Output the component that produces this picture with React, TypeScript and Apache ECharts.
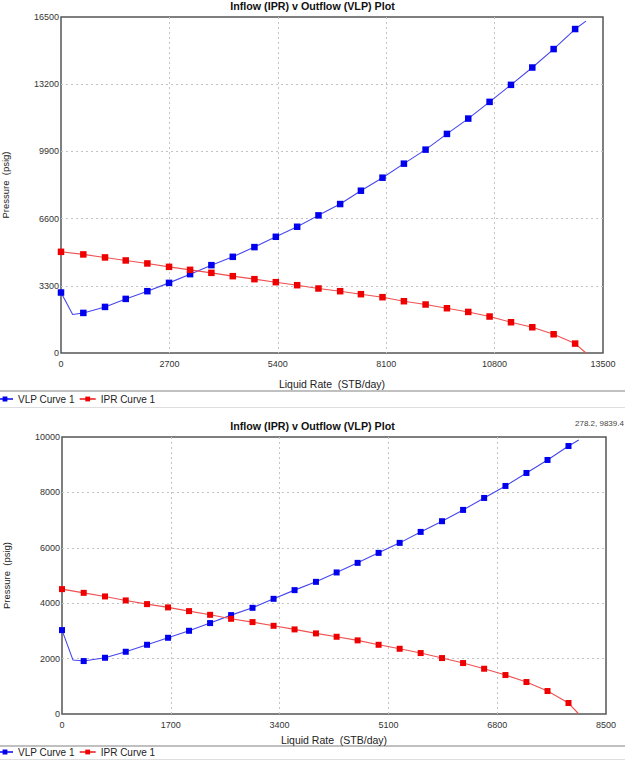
import React, { useEffect, useRef } from "react";
import * as echarts from "echarts";

// ---- Top plot data ----
const topVlpRate = [0, 291, 556, 1096, 1612, 2151, 2691, 3215, 3746, 4279, 4818, 5351, 5882, 6413, 6953, 7470, 8008, 8541, 9081, 9613, 10144, 10675, 11208, 11739, 12270, 12806, 13077];
const topVlpPressure = [2971, 1889, 1968, 2263, 2657, 3035, 3444, 3872, 4314, 4723, 5200, 5707, 6199, 6759, 7315, 7970, 8609, 9298, 9987, 10759, 11512, 12332, 13168, 14020, 14925, 15909, 16300];
const topVlpUnmarked = [1, 26];
const topIprRate = [0, 556, 1096, 1612, 2151, 2691, 3215, 3746, 4279, 4818, 5351, 5882, 6413, 6953, 7470, 8008, 8541, 9081, 9613, 10144, 10675, 11208, 11739, 12270, 12806, 13077];
const topIprPressure = [4969, 4841, 4693, 4545, 4398, 4231, 4083, 3936, 3773, 3626, 3478, 3330, 3168, 3035, 2888, 2740, 2543, 2381, 2199, 2017, 1791, 1510, 1264, 920, 462, 0];
const topIprUnmarked = [25];
const topXMax = 13500;
const topXInterval = 2700;
const topYMax = 16500;
const topYInterval = 3300;

// ---- Bottom plot data ----
const botVlpRate = [0, 172, 339, 672, 996, 1329, 1657, 1985, 2314, 2642, 2977, 3306, 3634, 3968, 4291, 4619, 4947, 5276, 5604, 5938, 6267, 6596, 6929, 7257, 7586, 7914, 8075];
const botVlpPressure = [3029, 1947, 1911, 2030, 2247, 2499, 2752, 3004, 3282, 3570, 3833, 4158, 4472, 4771, 5110, 5456, 5817, 6178, 6574, 6960, 7368, 7800, 8233, 8702, 9171, 9676, 9892];
const botVlpUnmarked = [1, 26];
const botIprRate = [0, 339, 672, 996, 1329, 1657, 1985, 2314, 2642, 2977, 3306, 3634, 3968, 4291, 4619, 4947, 5276, 5604, 5938, 6267, 6596, 6929, 7257, 7586, 7914, 8075];
const botIprPressure = [4508, 4374, 4244, 4100, 3967, 3848, 3714, 3581, 3437, 3318, 3184, 3054, 2910, 2788, 2658, 2499, 2355, 2200, 2019, 1839, 1634, 1406, 1154, 829, 397, 0];
const botIprUnmarked = [25];
const botXMax = 8500;
const botXInterval = 1700;
const botYMax = 10000;
const botYInterval = 2000;

const chartTitle = "Inflow (IPR) v Outflow (VLP) Plot";
const xName = "Liquid Rate  (STB/day)";
const yName = "Pressure  (psig)";
const vlpName = "VLP Curve 1";
const iprName = "IPR Curve 1";
const cursorText = "278.2, 9839.4";

const FONT = "'Liberation Sans', Arial, sans-serif";

function pts(xs: number[], ys: number[], unmarked: number[]) {
  return xs.map((x, i) =>
    unmarked.includes(i) ? { value: [x, ys[i]], symbol: "none" } : { value: [x, ys[i]] }
  );
}

const split = {
  show: true,
  showMinLine: false,
  showMaxLine: false,
  lineStyle: { color: "#c4c4c4", type: [2, 3], width: 1 },
};

function xAxis(gridIndex: number, max: number, interval: number, gap: number) {
  return {
    type: "value",
    gridIndex,
    min: 0,
    max,
    interval,
    name: xName,
    nameLocation: "middle",
    nameGap: gap,
    nameTextStyle: { fontFamily: FONT, fontSize: 10.5, color: "#222" },
    axisLine: { show: false },
    axisTick: { show: false },
    axisLabel: { fontFamily: FONT, fontSize: 9, color: "#333", margin: 6, formatter: (v: number) => String(v) },
    splitLine: split,
  };
}

function yAxis(gridIndex: number, max: number, interval: number) {
  return {
    type: "value",
    gridIndex,
    min: 0,
    max,
    interval,
    name: yName,
    nameLocation: "middle",
    nameGap: 51,
    nameRotate: 90,
    nameTextStyle: { fontFamily: FONT, fontSize: 9.5, color: "#222" },
    axisLine: { show: false },
    axisTick: { show: false },
    axisLabel: { fontFamily: FONT, fontSize: 9, color: "#333", margin: 2, formatter: (v: number) => String(v) },
    splitLine: split,
  };
}

function lineSeries(name: string, idx: number, data: any[], mark: string, line: string, size: number) {
  return {
    type: "line",
    name,
    xAxisIndex: idx,
    yAxisIndex: idx,
    data,
    symbol: "rect",
    symbolSize: size,
    showAllSymbol: true,
    itemStyle: { color: mark },
    lineStyle: { color: line, width: 1.1 },
    emphasis: { disabled: true },
  };
}

export default function App() {
  const ref = useRef<HTMLDivElement>(null);
  useEffect(() => {
    document.body.style.margin = "0";
    const chart = echarts.init(ref.current!, null, { renderer: "svg" });
    const legendCommon = {
      orient: "horizontal",
      left: -4,
      padding: 0,
      itemWidth: 16,
      itemHeight: 6,
      itemGap: 4,
      textStyle: { fontFamily: FONT, fontSize: 10, color: "#222" },
      selectedMode: false,
    };
    chart.setOption({
      animation: false,
      backgroundColor: "#ffffff",
      title: [
        {
          text: chartTitle,
          left: "center",
          top: 0,
          padding: 0,
          textStyle: { fontFamily: FONT, fontSize: 10.7, fontWeight: "bold", color: "#111" },
        },
        {
          text: chartTitle,
          left: "center",
          top: 420,
          padding: 0,
          textStyle: { fontFamily: FONT, fontSize: 10.7, fontWeight: "bold", color: "#111" },
        },
      ],
      legend: [
        { ...legendCommon, top: 394, data: [vlpName, iprName] },
        { ...legendCommon, top: 747, data: [vlpName, iprName] },
      ],
      grid: [
        { left: 61, top: 17, width: 542, height: 336, show: true, borderColor: "#555", borderWidth: 1.5, outerBoundsMode: "none", containLabel: false },
        { left: 62, top: 437, width: 544, height: 277, show: true, borderColor: "#555", borderWidth: 1.5, outerBoundsMode: "none", containLabel: false },
      ],
      xAxis: [xAxis(0, topXMax, topXInterval, 25), xAxis(1, botXMax, botXInterval, 20)],
      yAxis: [yAxis(0, topYMax, topYInterval), yAxis(1, botYMax, botYInterval)],
      series: [
        lineSeries(vlpName, 0, pts(topVlpRate, topVlpPressure, topVlpUnmarked), "#0000ee", "#4646f0", 6.5),
        lineSeries(iprName, 0, pts(topIprRate, topIprPressure, topIprUnmarked), "#ee0000", "#f05050", 6.5),
        lineSeries(vlpName, 1, pts(botVlpRate, botVlpPressure, botVlpUnmarked), "#0000ee", "#4646f0", 6),
        lineSeries(iprName, 1, pts(botIprRate, botIprPressure, botIprUnmarked), "#ee0000", "#f05050", 6),
      ],
      graphic: [
        { type: "rect", shape: { x: 0, y: 390, width: 625, height: 2 }, style: { fill: "#c0c0c0" }, silent: true },
        { type: "rect", shape: { x: 0, y: 407, width: 625, height: 1 }, style: { fill: "#dedede" }, silent: true },
        { type: "rect", shape: { x: 0, y: 745, width: 625, height: 2 }, style: { fill: "#c0c0c0" }, silent: true },
        { type: "rect", shape: { x: 0, y: 759, width: 625, height: 1 }, style: { fill: "#dedede" }, silent: true },
        {
          type: "text",
          x: 575,
          y: 423,
          style: { text: cursorText, fontFamily: FONT, fontSize: 8, fill: "#444", verticalAlign: "middle" },
          silent: true,
        },
      ],
    });
    return () => chart.dispose();
  }, []);
  return <div ref={ref} style={{ position: "fixed", left: 0, top: 0, width: 625, height: 760 }} />;
}
